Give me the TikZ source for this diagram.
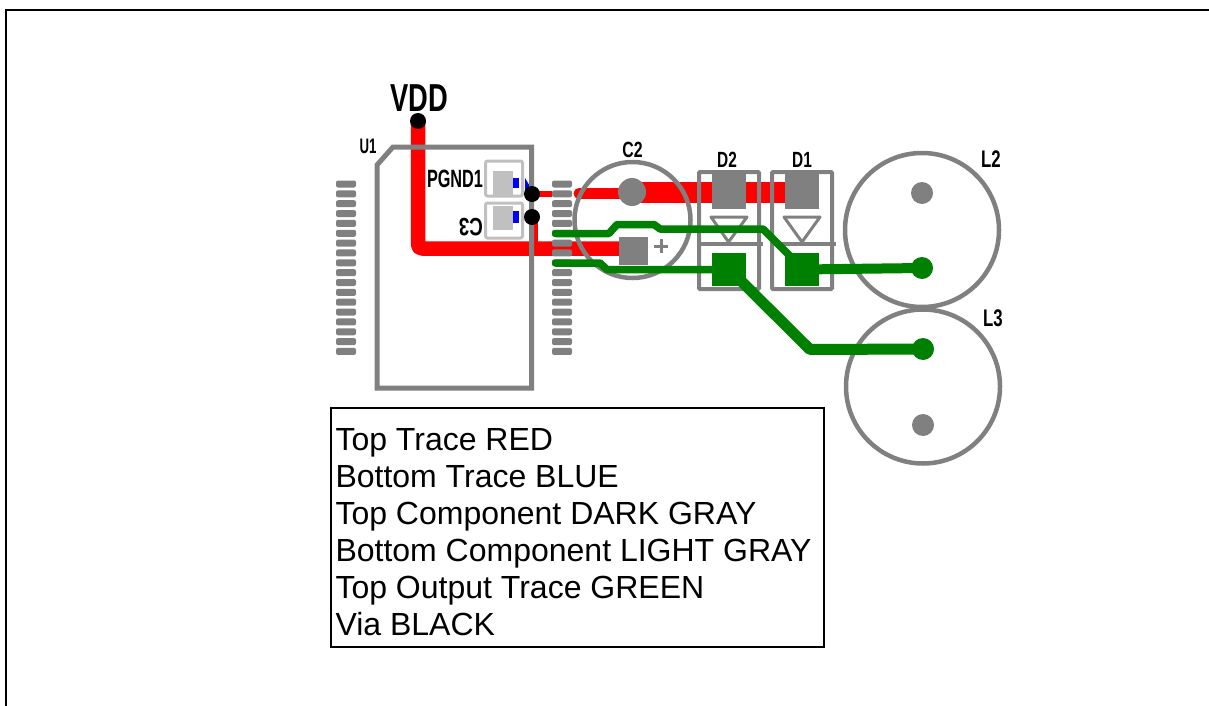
\documentclass[tikz,border=0pt]{standalone}
\usepackage{fontspec}
\setmainfont{Liberation Sans}
\definecolor{dg}{HTML}{808080}
\definecolor{lg}{HTML}{C0C0C0}
\definecolor{grn}{HTML}{008000}
\definecolor{rd}{HTML}{FF0000}
\definecolor{bl}{HTML}{0000FF}
\newcommand{\lbl}[3]{\scalebox{#1}[1]{\fontsize{#2}{#2}\selectfont\bfseries #3}}
\tikzset{
  pt/.style={inner sep=0pt,outer sep=0pt},
  via/.style={circle,fill=black,minimum size=16pt,pt},
  hole/.style={circle,fill=dg,pt},
  term/.style={circle,fill=grn,minimum size=22pt,pt},
  ring/.style={circle,draw=dg,line width=4.5pt,pt},
  padg/.style={rectangle,fill=dg,pt},
  padt/.style={rectangle,fill=grn,pt},
  padl/.style={rectangle,fill=lg,minimum width=20pt,minimum height=24pt,pt},
  padb/.style={rectangle,fill=bl,minimum width=6pt,pt},
  pin/.style={rectangle,fill=dg,rounded corners=2pt,minimum width=20pt,minimum height=7pt,pt},
  dbox/.style={rectangle,draw=dg,line width=4pt,rounded corners=1pt,minimum width=60pt,minimum height=117pt,pt},
  lbox/.style={rectangle,draw=lg,line width=3pt,rounded corners=2pt,minimum width=37pt,minimum height=35pt,pt},
  redt/.style={draw=rd,line join=round},
  grnt/.style={draw=grn,line join=round,line cap=round},
  gryl/.style={draw=dg,line join=miter},
  lab/.style={pt,text=black},
  leg/.style={pt,anchor=base west,text=black,font=\fontsize{32}{32}\selectfont},
}
\begin{document}
\begin{tikzpicture}[x=1pt,y=-1pt]
\useasboundingbox (0,0) rectangle (1209,706);
\fill[white] (0,0) rectangle (1209,706);
% outer frame
\coordinate (fa) at (6,706); \coordinate (fb) at (6,10.5); \coordinate (fc) at (1209,10.5);
\draw[black,line width=2pt] (fa) -- (fb) -- (fc);
% anchors
\coordinate (vt) at (418,121);
\coordinate (vc) at (418,248.5);
\coordinate (rr) at (620,248.5);
\coordinate (ra) at (532,194);
\coordinate (rb) at (552,194);
\coordinate (rc) at (579,193.5);
\coordinate (rd1) at (640,193.5);
\coordinate (rd2) at (640,192.5);
\coordinate (rd3) at (786,192.5);
\coordinate (re) at (535.5,217);
\coordinate (rf) at (535.5,244);
% red traces
\draw[redt,line width=14.5pt,rounded corners=4pt] (vt) -- (vc) -- (rr);
\draw[redt,line width=6pt] (ra) -- (rb);
\draw[redt,line width=11pt,line cap=round] (rc) -- (rd1);
\draw[redt,line width=21pt] (rd2) -- (rd3);
\draw[redt,line width=4pt] (re) -- (rf);
% bottom components
\node[lbox] (c1box) at (504,178.5) {};
\node[lbox] (c3box) at (504,220.5) {};
\node[padl] (c1pad) at (503,183) {};
\node[padl] (c3pad) at (503,218) {};
% blue
\node[padb,minimum height=10pt] (b1) at (516,183) {};
\node[padb,minimum height=12pt] (b2) at (516,217) {};
\fill[bl] (525,178) -- (531,188) -- (525,191) -- cycle;
% pins
\foreach \i in {0,...,17}{
  \node[pin] (pl\i) at (346,184+9.85*\i) {};
  \node[pin] (pr\i) at (562,184+9.85*\i) {};
}
% chip outline
\draw[gryl,line width=5pt] (377,388) -- (377,165) -- (393,147) -- (531.5,147) -- (531.5,388) -- cycle;
% C2
\node[ring,minimum size=116pt] (c2) at (632.5,220) {};
\node[hole,minimum size=28pt] (c2a) at (632,192) {};
\node[padg,minimum width=29pt,minimum height=28pt] (c2b) at (633.5,251) {};
\draw[dg,line width=3pt] (654,246) -- (668,246);
\draw[dg,line width=3pt] (661,239) -- (661,253);
% diodes
\node[dbox] (d2) at (729,230.5) {};
\node[dbox] (d1) at (802,230.5) {};
\draw[dg,line width=4pt] (697,244) -- (763,244);
\draw[dg,line width=4pt] (770,244) -- (836,244);
\node[padg,minimum width=34pt,minimum height=36pt] (d2a) at (729,191) {};
\node[padg,minimum width=34pt,minimum height=36pt] (d1a) at (802,191) {};
\draw[dg,line width=3pt,line join=round] (711,217) -- (747,217) -- (728.5,242) -- cycle;
\draw[dg,line width=3pt,line join=round] (784,217) -- (820,217) -- (802,242) -- cycle;
% inductors
\node[ring,minimum size=154pt] (l2) at (922,230) {};
\node[ring,minimum size=154pt] (l3) at (923,386.5) {};
\node[hole,minimum size=22pt] (l2a) at (922,193) {};
\node[hole,minimum size=22pt] (l3a) at (923,425) {};
% green
\node[padt,minimum width=34pt,minimum height=33pt] (d2b) at (729,269.5) {};
\node[padt,minimum width=34pt,minimum height=33pt] (d1b) at (802,269.5) {};
\node[term] (l2t) at (922,268) {};
\node[term] (l3t) at (923,349) {};
\coordinate (ga) at (555.5,233.5); \coordinate (gb) at (609,233.5); \coordinate (gc) at (617,224.5);
\coordinate (gd) at (654,224.5); \coordinate (ge) at (660,229); \coordinate (gf) at (763,229);
\coordinate (gg) at (796,262);
\coordinate (ha) at (555.5,263); \coordinate (hb) at (600,263); \coordinate (hc) at (607,269.5);
\coordinate (ja) at (735,275); \coordinate (jb) at (810,349.5);
\draw[grnt,line width=7.5pt] (ga) -- (gb) -- (gc) -- (gd) -- (ge) -- (gf) -- (gg);
\draw[grnt,line width=7.5pt] (ha) -- (hb) -- (hc) -- (d2b.center);
\draw[grnt,line width=11pt] (ja) -- (jb) -- (l3t.center);
\draw[grn,line width=10pt] (d1b.center) -- (l2t.center);
% vias
\node[via] (v0) at (418,121) {};
\node[via] (v1) at (532,194) {};
\node[via] (v2) at (532,217) {};
% labels
\node[lab] (tvdd) at (419,98) {\lbl{.7}{39}{VDD}};
\node[lab] (tu1) at (368,146) {\lbl{.63}{21}{U1}};
\node[lab] (tpg) at (455,179) {\lbl{.65}{25}{PGND1}};
\node[lab,rotate=180] (tc3) at (471,227.5) {\lbl{.75}{25}{C3}};
\node[lab] (tc2) at (632.5,150) {\lbl{.72}{22}{C2}};
\node[lab] (td2) at (727,160) {\lbl{.7}{22}{D2}};
\node[lab] (td1) at (802,160) {\lbl{.7}{22}{D1}};
\node[lab] (tl2) at (991,159) {\lbl{.7}{24}{L2}};
\node[lab] (tl3) at (993,318.5) {\lbl{.7}{24}{L3}};
% legend
\node[rectangle,draw=black,line width=2pt,minimum width=493pt,minimum height=239pt,pt] (legend) at (577.5,527.5) {};
\node[leg] (t1) at (335.5,450) {Top Trace RED};
\node[leg] (t2) at (335.5,487) {Bottom Trace BLUE};
\node[leg] (t3) at (335.5,524) {Top Component DARK GRAY};
\node[leg] (t4) at (335.5,561) {Bottom Component LIGHT GRAY};
\node[leg] (t5) at (335.5,598) {Top Output Trace GREEN};
\node[leg] (t6) at (335.5,635) {Via BLACK};
\end{tikzpicture}
\end{document}
